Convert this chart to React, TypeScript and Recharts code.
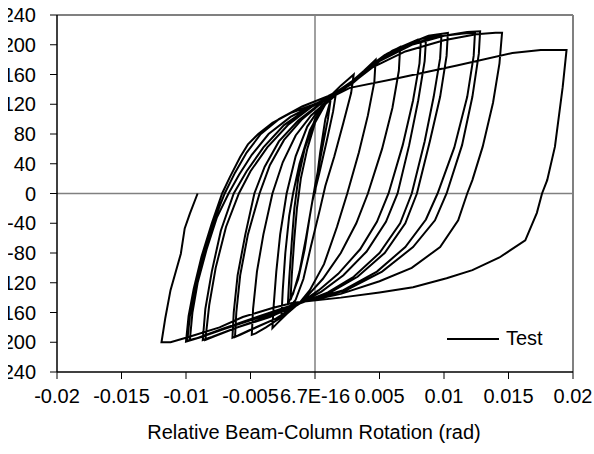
import React from 'react';
import { LineChart, Line, XAxis, YAxis, ReferenceLine } from 'recharts';

// rotation (rad), moment, traced loop by loop from the test record
const initialLoading = [[0, 0], [0.0004, 55], [0.0008, 100], [0.0012, 125]];
const cycle1 = [[0.0010, 100], [0.0005, 55], [0.0000, 10], [-0.0004, -30], [-0.0008, -75], [-0.0013, -115], [-0.0019, -143], [-0.0018, -110], [-0.0016, -60], [-0.0014, -20], [-0.0011, 20], [-0.0006, 60], [0.0000, 95], [0.0008, 120], [0.0016, 132]];
const cycle2 = [[0.0014, 110], [0.0009, 70], [0.0003, 25], [-0.0002, -10], [-0.0007, -60], [-0.0012, -105], [-0.0017, -135], [-0.0021, -148], [-0.0020, -115], [-0.0018, -65], [-0.0016, -20], [-0.0013, 20], [-0.0008, 60], [0.0000, 100], [0.0010, 128], [0.0020, 145], [0.0030, 160]];
const cycle3 = [[0.0028, 135], [0.0022, 95], [0.0015, 50], [0.0008, 10], [0.0004, -20], [-0.0003, -70], [-0.0009, -115], [-0.0015, -143], [-0.0021, -155], [-0.0026, -165], [-0.0025, -130], [-0.0023, -80], [-0.0020, -30], [-0.0017, 0], [-0.0012, 40], [-0.0004, 85], [0.0006, 118], [0.0018, 138], [0.0028, 150], [0.0038, 165], [0.0047, 180]];
const cycle4 = [[0.0046, 150], [0.0041, 105], [0.0034, 55], [0.0025, 0], [0.0017, -45], [0.0007, -95], [-0.0004, -130], [-0.0012, -147], [-0.0022, -162], [-0.0029, -174], [-0.0033, -181], [-0.0032, -150], [-0.0030, -105], [-0.0027, -55], [-0.0022, 0], [-0.0015, 50], [-0.0006, 90], [0.0005, 118], [0.0017, 135], [0.0027, 147], [0.0040, 168], [0.0054, 186], [0.0066, 197]];
const cycle5 = [[0.0065, 165], [0.0060, 115], [0.0052, 60], [0.0041, 0], [0.0032, -40], [0.0020, -80], [0.0006, -115], [-0.0006, -138], [-0.0014, -150], [-0.0025, -165], [-0.0038, -180], [-0.0046, -188], [-0.0049, -190], [-0.0048, -155], [-0.0045, -105], [-0.0040, -55], [-0.0033, 0], [-0.0025, 42], [-0.0015, 78], [-0.0003, 105], [0.0012, 128], [0.0026, 145], [0.0040, 168], [0.0056, 188], [0.0070, 199], [0.0082, 203]];
const cycle6 = [[0.0081, 175], [0.0076, 125], [0.0068, 65], [0.0057, 0], [0.0048, -38], [0.0035, -75], [0.0018, -108], [0.0003, -130], [-0.0012, -148], [-0.0030, -168], [-0.0048, -182], [-0.0058, -190], [-0.0062, -193], [-0.0061, -160], [-0.0058, -110], [-0.0052, -55], [-0.0043, 0], [-0.0035, 38], [-0.0024, 72], [-0.0010, 100], [0.0006, 123], [0.0024, 143], [0.0040, 168], [0.0056, 188], [0.0072, 201], [0.0086, 206]];
const cycle7 = [[0.0085, 178], [0.0080, 125], [0.0073, 65], [0.0064, 0], [0.0055, -38], [0.0040, -78], [0.0022, -110], [0.0005, -132], [-0.0012, -148], [-0.0030, -168], [-0.0050, -183], [-0.0060, -191], [-0.0064, -194], [-0.0063, -160], [-0.0060, -110], [-0.0054, -55], [-0.0047, 0], [-0.0039, 36], [-0.0028, 70], [-0.0013, 98], [0.0004, 121], [0.0024, 143], [0.0042, 170], [0.0060, 192], [0.0080, 207], [0.0092, 211], [0.0098, 212]];
const cycle8 = [[0.0097, 182], [0.0092, 130], [0.0085, 70], [0.0075, 0], [0.0066, -40], [0.0050, -80], [0.0030, -112], [0.0010, -133], [-0.0012, -148], [-0.0035, -166], [-0.0060, -180], [-0.0078, -192], [-0.0085, -197], [-0.0082, -150], [-0.0077, -100], [-0.0069, -45], [-0.0059, 0], [-0.0050, 30], [-0.0037, 62], [-0.0021, 92], [-0.0003, 116], [0.0016, 135], [0.0030, 152], [0.0048, 178], [0.0068, 198], [0.0088, 212], [0.0103, 216]];
const cycle9 = [[0.0102, 185], [0.0097, 130], [0.0089, 70], [0.0079, 0], [0.0070, -40], [0.0054, -80], [0.0033, -112], [0.0012, -133], [-0.0012, -148], [-0.0037, -166], [-0.0062, -181], [-0.0080, -193], [-0.0087, -197], [-0.0085, -155], [-0.0080, -105], [-0.0073, -50], [-0.0063, 0], [-0.0053, 30], [-0.0040, 62], [-0.0024, 92], [-0.0005, 115], [0.0015, 133], [0.0029, 148], [0.0048, 176], [0.0070, 198], [0.0095, 211], [0.0115, 215], [0.0124, 216]];
const cycle10 = [[0.0123, 185], [0.0118, 130], [0.0108, 62], [0.0095, 0], [0.0086, -35], [0.0070, -72], [0.0048, -105], [0.0022, -130], [-0.0012, -147], [-0.0040, -165], [-0.0068, -180], [-0.0088, -193], [-0.0097, -197], [-0.0095, -160], [-0.0091, -120], [-0.0084, -75], [-0.0076, -32], [-0.0067, 0], [-0.0059, 25], [-0.0049, 52], [-0.0036, 80], [-0.0019, 103], [0.0000, 120], [0.0018, 136], [0.0030, 150], [0.0050, 178], [0.0075, 200], [0.0100, 212], [0.0118, 217], [0.0128, 218]];
const cycle11 = [[0.0127, 188], [0.0122, 130], [0.0114, 65], [0.0102, 0], [0.0093, -36], [0.0076, -72], [0.0052, -105], [0.0024, -130], [-0.0012, -147], [-0.0042, -166], [-0.0070, -182], [-0.0090, -194], [-0.0099, -198], [-0.0097, -165], [-0.0093, -125], [-0.0086, -80], [-0.0078, -35], [-0.0070, 0], [-0.0062, 28], [-0.0053, 55], [-0.0042, 80], [-0.0028, 100], [-0.0010, 117], [0.0010, 131], [0.0027, 146], [0.0045, 170], [0.0070, 191], [0.0100, 206], [0.0125, 214], [0.0140, 216], [0.0145, 216]];
const cycle12 = [[0.0143, 175], [0.0138, 122], [0.0130, 63], [0.0122, 18], [0.0118, 0], [0.0111, -36], [0.0097, -72], [0.0075, -100], [0.0050, -118], [0.0020, -135], [-0.0012, -147], [-0.0045, -166], [-0.0072, -182], [-0.0092, -195], [-0.0100, -199], [-0.0098, -165], [-0.0094, -128], [-0.0088, -85], [-0.0080, -40], [-0.0072, 0], [-0.0066, 22], [-0.0058, 49], [-0.0052, 66], [-0.0044, 80], [-0.0033, 95], [-0.0019, 108], [-0.0002, 119], [0.0012, 129], [0.0027, 142], [0.0064, 155], [0.0110, 172], [0.0153, 189], [0.0175, 193], [0.0195, 193]];
const cycle13 = [[0.0192, 143], [0.0186, 63], [0.0180, 18], [0.0176, 0], [0.0172, -26], [0.0163, -63], [0.0143, -86], [0.0122, -103], [0.0102, -114], [0.0076, -126], [0.0050, -133], [0.0020, -140], [-0.0017, -147], [-0.0033, -154], [-0.0056, -166], [-0.0074, -180], [-0.0098, -193], [-0.0112, -200], [-0.0119, -200]];
const finalReturn = [[-0.0116, -167], [-0.0112, -130], [-0.0104, -81], [-0.0101, -47], [-0.0097, -27], [-0.0091, 0]];

const xTicks = [-0.02, -0.015, -0.01, -0.005, 0, 0.005, 0.01, 0.015, 0.02];
const xTickLabels = ['-0.02', '-0.015', '-0.01', '-0.005', '6.7E-16', '0.005', '0.01', '0.015', '0.02'];
const yTicks = [-240, -200, -160, -120, -80, -40, 0, 40, 80, 120, 160, 200, 240];

const data = [
  initialLoading, cycle1, cycle2, cycle3, cycle4, cycle5, cycle6, cycle7,
  cycle8, cycle9, cycle10, cycle11, cycle12, cycle13, finalReturn,
].flat().map(([x, m]) => ({ x, m }));

const font = '"Liberation Sans", Arial, sans-serif';
const tickStyle = { fill: '#000', fontSize: 20, fontFamily: font };

export default function App() {
  return (
    <div style={{ position: 'absolute', left: 0, top: 0, width: 594, height: 454, background: '#fff', overflow: 'hidden' }}>
      <LineChart width={594} height={454} data={data} margin={{ top: 15, right: 21, bottom: 0, left: 0 }}>
        <XAxis
          dataKey="x"
          type="number"
          domain={[-0.02, 0.02]}
          ticks={xTicks}
          interval={0}
          height={82}
          tickSize={7}
          tickMargin={10}
          tick={tickStyle}
          tickFormatter={(v, i) => xTickLabels[i]}
          axisLine={{ stroke: '#000', strokeWidth: 1.5 }}
          tickLine={{ stroke: '#000' }}
        />
        <YAxis
          type="number"
          domain={[-240, 240]}
          ticks={yTicks}
          interval={0}
          width={57}
          tickSize={7}
          tickMargin={14}
          tick={tickStyle}
          axisLine={{ stroke: '#000', strokeWidth: 1.5 }}
          tickLine={{ stroke: '#000' }}
        />
        <ReferenceLine y={240} stroke="#808080" strokeWidth={2} />
        <ReferenceLine x={0.02} stroke="#808080" strokeWidth={2} />
        <ReferenceLine y={0} stroke="#808080" strokeWidth={1.5} />
        <ReferenceLine x={0} stroke="#808080" strokeWidth={1.5} />
        <Line
          dataKey="m"
          type="linear"
          stroke="#000"
          strokeWidth={2}
          dot={false}
          isAnimationActive={false}
        />
      </LineChart>
      {/* the source image is cropped a few pixels into the y labels */}
      <div style={{ position: 'absolute', left: 0, top: 0, width: 8, height: 454, background: '#fff' }} />
      <div style={{ position: 'absolute', left: 447, top: 327, display: 'flex', alignItems: 'center', fontFamily: font, fontSize: 20 }}>
        <div style={{ width: 52, height: 2, background: '#000', marginRight: 7 }} />
        <span>Test</span>
      </div>
      <div style={{ position: 'absolute', left: 0, width: 628, top: 421, textAlign: 'center', fontFamily: font, fontSize: 20 }}>
        Relative Beam-Column Rotation (rad)
      </div>
    </div>
  );
}
